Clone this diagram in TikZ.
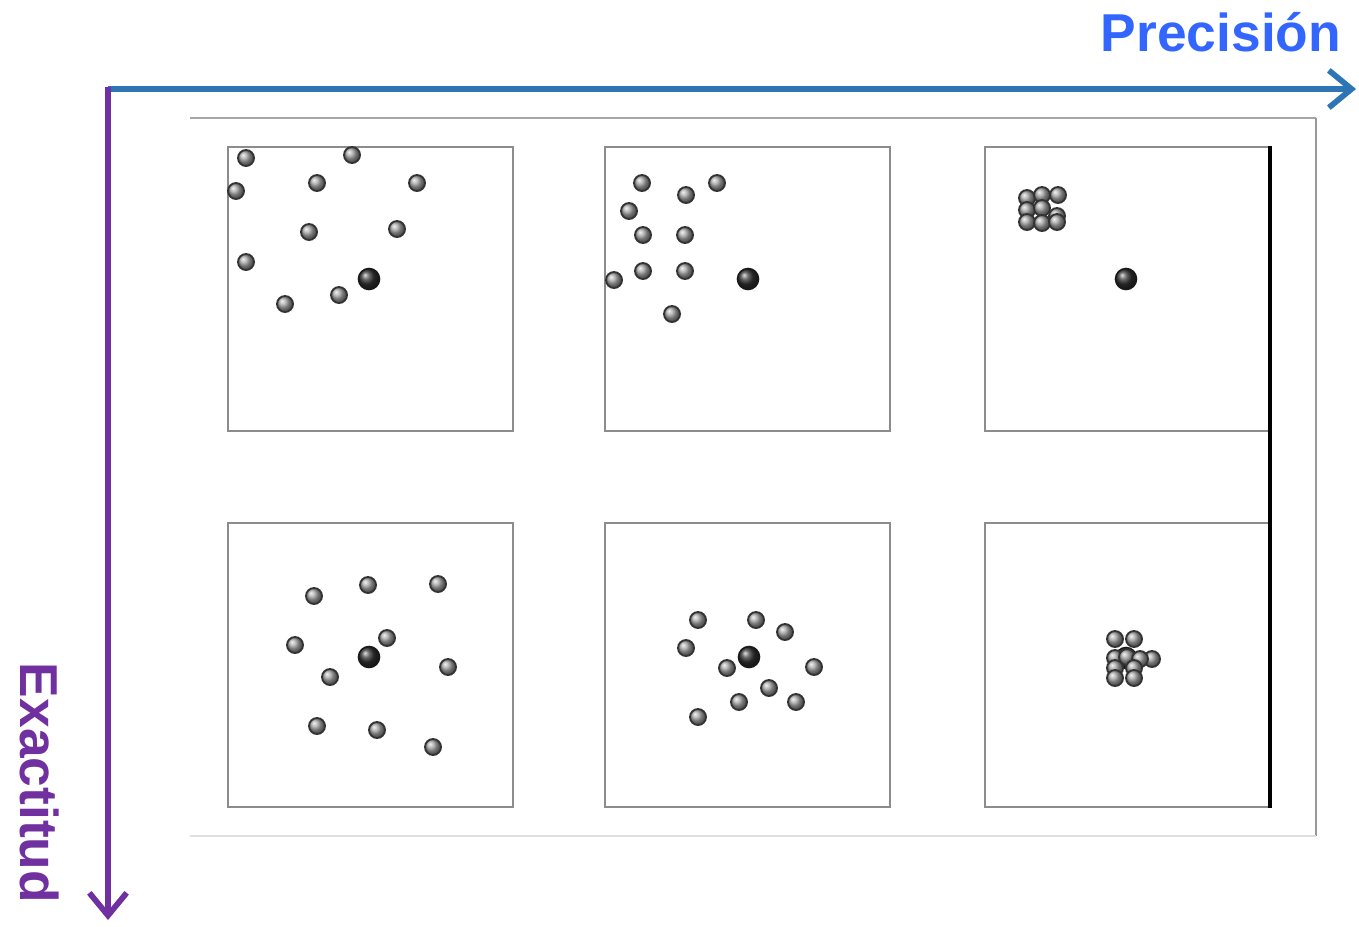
\documentclass[tikz,border=0pt]{standalone}
\usepackage{fontspec}
\usepackage{tikz}
\usetikzlibrary{arrows.meta,calc,positioning}
\newfontfamily\axisfont{Liberation Sans}
\definecolor{precblue}{HTML}{3366FF}
\definecolor{axisblue}{HTML}{2E75B6}
\definecolor{axispurple}{HTML}{7030A0}

\begin{document}
\begin{tikzpicture}[x=0.75pt, y=-0.75pt, >=stealth]
	\newcommand{\Shot}[1]{\shadedraw[ball color=gray!70, draw=black!80, line width=1.4pt] (#1) circle (8);}
	\newcommand{\Target}[1]{\shadedraw[ball color=black!80, draw=black!90, line width=1.2pt] (#1) circle (10.5);}
	\tikzset{
		panel/.style={draw=gray!90, line width=1.5pt},
		axislabel/.style={font=\axisfont\bfseries\fontsize{40}{48}\selectfont, inner sep=0pt},
		axisline/.style={line width=4.3pt, -{Straight Barb[length=17pt, width=28pt]}}
	}
	\useasboundingbox (0,0) rectangle (1359,926);

	% outer frame of the picture
	\draw[gray!70, line width=0.8pt] (190,118) -- (1316,118);
	\draw[gray!80, line width=0.8pt] (1316,118) -- (1316,836);
	\draw[gray!25, line width=0.8pt] (190,836) -- (1316,836);

	% six targets
	\foreach \x in {228,605,985}
		\foreach \y in {147,523}
			\draw[panel] (\x,\y) rectangle ++(285,284);
	\draw[black, line width=2.5pt] (1270,146) -- (1270,808);

	% top left
	\Target{369,279}
	\foreach \p in {{246,158},{352,155},{236,191},{317,183},{417,183},{309,232},{397,229},{246,262},{285,304},{339,295}}
		{\Shot{\p}}
	% top middle
	\Target{748,279}
	\foreach \p in {{642,183},{686,195},{717,183},{629,211},{643,235},{685,235},{643,271},{685,271},{614,280},{672,314}}
		{\Shot{\p}}
	% top right
	\Target{1126,279}
	\foreach \p in {{1027,198},{1042,195},{1058,195},{1027,210},{1042,208},{1057,216},{1027,222},{1042,223},{1057,222}}
		{\Shot{\p}}
	% bottom left
	\Target{369,657}
	\foreach \p in {{314,596},{368,585},{438,584},{295,645},{387,638},{448,667},{330,677},{317,726},{377,730},{433,747}}
		{\Shot{\p}}
	% bottom middle
	\Target{749,657}
	\foreach \p in {{698,620},{756,620},{785,632},{686,648},{727,668},{814,667},{769,688},{739,702},{796,702},{698,717}}
		{\Shot{\p}}
	% bottom right
	\Target{1126,658}
	\foreach \p in {{1115,639},{1134,639},{1152,659},{1115,658},{1127,657},{1140,659},{1115,668},{1134,668},{1115,678},{1134,678}}
		{\Shot{\p}}

	% axes
	\coordinate (origin) at (108,89);
	\coordinate (precEnd) at (1356,89);
	\coordinate (exacEnd) at (108,920);
	\draw[axisline, axisblue] (origin) -- (precEnd);
	\draw[axisline, axispurple] ($(origin)+(0,-2)$) -- (exacEnd);

	\node (precLabel) [axislabel, text=precblue, anchor=base] at (1221,51) {Precisión};
	\node (exacLabel) [axislabel, text=axispurple, anchor=base, rotate=-90] at (21,783) {Exactitud};
\end{tikzpicture}
\end{document}
